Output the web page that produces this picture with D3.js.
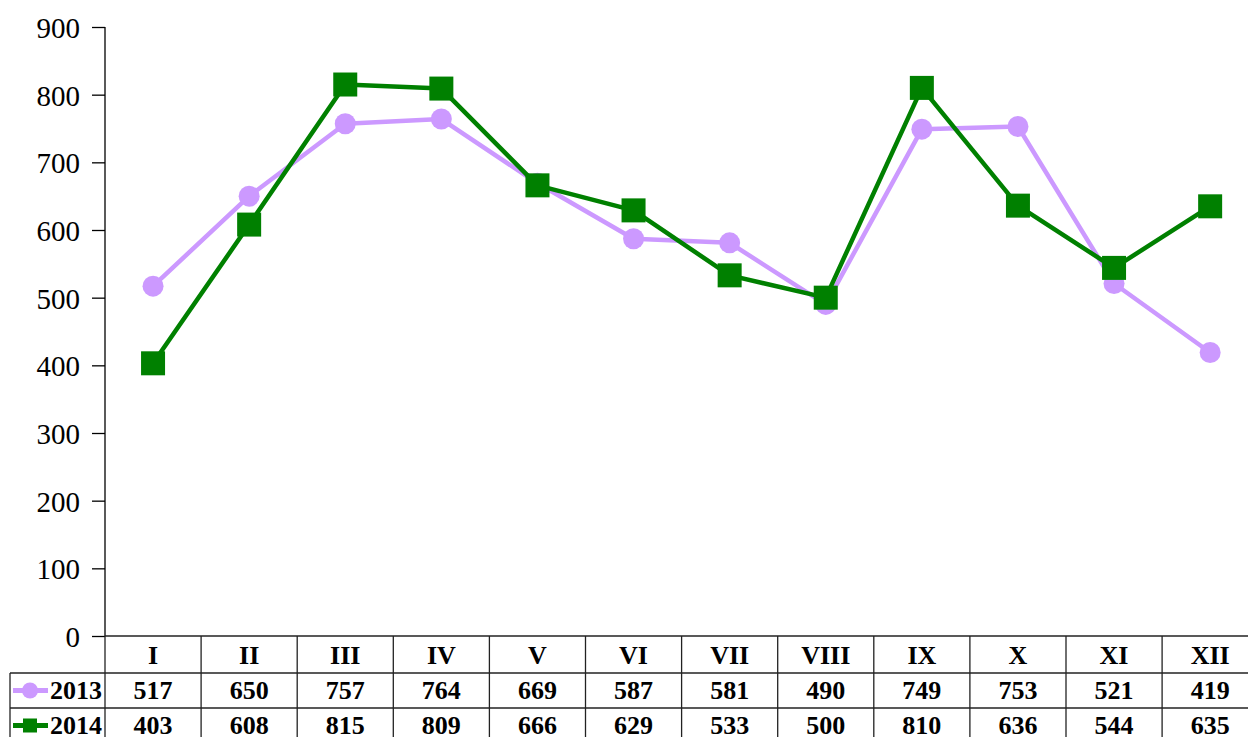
<!DOCTYPE html>
<html>
<head>
<meta charset="utf-8">
<script src="https://cdn.jsdelivr.net/npm/d3@7"></script>
<style>
  body { margin: 0; background: #fff; }
  svg { display: block; font-family: "Liberation Serif", "Times New Roman", serif; }
  svg text { font-family: "Liberation Serif", "Times New Roman", serif !important; }
</style>
</head>
<body>
<div class="graph"></div>
<script>
var months = ['I', 'II', 'III', 'IV', 'V', 'VI', 'VII', 'VIII', 'IX', 'X', 'XI', 'XII'];
var values2013 = [517, 650, 757, 764, 669, 587, 581, 490, 749, 753, 521, 419];
var values2014 = [403, 608, 815, 809, 666, 629, 533, 500, 810, 636, 544, 635];
var yTicks = [0, 100, 200, 300, 400, 500, 600, 700, 800, 900];

var series = [
  {name: '2013', values: values2013, color: '#cc99ff', marker: 'circle'},
  {name: '2014', values: values2014, color: '#008000', marker: 'square'}
];

var W = 1248, H = 737;
var plotLeft = 105, plotTop = 27, plotBottom = 636;
var rowH = [37, 35, 35]; // header, 2013, 2014
var tableLeft = 10;

var x = d3.scaleBand().domain(months).range([plotLeft, plotLeft + 12 * 96.1]).padding(0),
    y = d3.scaleLinear().domain([0, 900]).range([plotBottom, plotTop]);

var svg = d3.select('.graph')
            .append('svg')
            .attr('width', W)
            .attr('height', H);

// y axis
var yAxis = d3.axisLeft(y).tickValues(yTicks).tickSize(13).tickPadding(12);
var gy = svg.append('g')
            .attr('transform', 'translate(' + plotLeft + ',0)')
            .call(yAxis)
            .attr('font-size', 29);
gy.select('.domain').attr('stroke', '#000').attr('stroke-width', 1.3).attr('d', 'M0,' + plotTop + 'V' + plotBottom);
gy.selectAll('.tick line').attr('stroke', '#000').attr('stroke-width', 1.3);
gy.selectAll('.tick text').attr('fill', '#000').attr('dy', '0.36em');

// data table
var table = svg.append('g').attr('class', 'table');
var rowTops = [plotBottom, plotBottom + rowH[0], plotBottom + rowH[0] + rowH[1]];
var tableBottom = rowTops[2] + rowH[2];
var plotRight = x.range()[1];

table.append('line')
     .attr('x1', plotLeft).attr('x2', plotRight)
     .attr('y1', rowTops[0]).attr('y2', rowTops[0]);
[1, 2].forEach(function(r) {
  table.append('line')
       .attr('x1', tableLeft).attr('x2', plotRight)
       .attr('y1', rowTops[r]).attr('y2', rowTops[r]);
});
table.append('line')
     .attr('x1', tableLeft).attr('x2', plotRight)
     .attr('y1', tableBottom).attr('y2', tableBottom);
table.append('line')
     .attr('x1', tableLeft).attr('x2', tableLeft)
     .attr('y1', rowTops[1]).attr('y2', tableBottom);
months.forEach(function(m) {
  table.append('line')
       .attr('x1', x(m) + x.bandwidth()).attr('x2', x(m) + x.bandwidth())
       .attr('y1', rowTops[0]).attr('y2', tableBottom);
});
table.append('line')
     .attr('x1', plotLeft).attr('x2', plotLeft)
     .attr('y1', rowTops[0]).attr('y2', tableBottom);
table.selectAll('line').attr('stroke', '#222').attr('stroke-width', 1.3);

table.selectAll('.hdr')
     .data(months)
     .enter()
     .append('text')
     .attr('x', function(m) { return x(m) + x.bandwidth() / 2; })
     .attr('y', rowTops[0] + rowH[0] / 2 + 9.5)
     .attr('text-anchor', 'middle')
     .style('font-size', '26px')
     .style('font-weight', 'bold')
     .text(function(m) { return m; });

series.forEach(function(s, i) {
  var cy = rowTops[i + 1] + rowH[i + 1] / 2;
  table.selectAll('.val' + i)
       .data(s.values)
       .enter()
       .append('text')
       .attr('x', function(v, j) { return x(months[j]) + x.bandwidth() / 2; })
       .attr('y', cy + 8.5)
       .attr('text-anchor', 'middle')
       .style('font-size', '26px')
       .style('font-weight', 'bold')
       .text(function(v) { return v; });

  // legend key
  var key = table.append('g');
  key.append('line')
     .attr('x1', 13).attr('x2', 48)
     .attr('y1', cy).attr('y2', cy)
     .attr('stroke', s.color).attr('stroke-width', 5);
  if (s.marker === 'circle') {
    key.append('circle').attr('cx', 30).attr('cy', cy).attr('r', 8).attr('fill', s.color);
  } else {
    key.append('rect').attr('x', 23).attr('y', cy - 7).attr('width', 14).attr('height', 14).attr('fill', s.color);
  }
  table.append('text')
       .attr('x', 102)
       .attr('y', cy + 8.5)
       .attr('text-anchor', 'end')
       .style('font-size', '26px')
       .style('font-weight', 'bold')
       .text(s.name);
});

// lines
var line = d3.line()
             .x(function(v, j) { return x(months[j]) + x.bandwidth() / 2; })
             .y(function(v) { return y(v); });

series.forEach(function(s) {
  svg.append('path')
     .datum(s.values)
     .attr('fill', 'none')
     .attr('stroke', s.color)
     .attr('stroke-width', 4.5)
     .attr('stroke-linejoin', 'round')
     .attr('d', line);

  var pts = svg.selectAll('.pt-' + s.name)
               .data(s.values)
               .enter();
  if (s.marker === 'circle') {
    pts.append('circle')
       .attr('cx', function(v, j) { return x(months[j]) + x.bandwidth() / 2; })
       .attr('cy', function(v) { return y(v); })
       .attr('r', 10.5)
       .attr('fill', s.color);
  } else {
    pts.append('rect')
       .attr('x', function(v, j) { return x(months[j]) + x.bandwidth() / 2 - 12; })
       .attr('y', function(v) { return y(v) - 12; })
       .attr('width', 24)
       .attr('height', 24)
       .attr('fill', s.color);
  }
});
</script>
</body>
</html>
